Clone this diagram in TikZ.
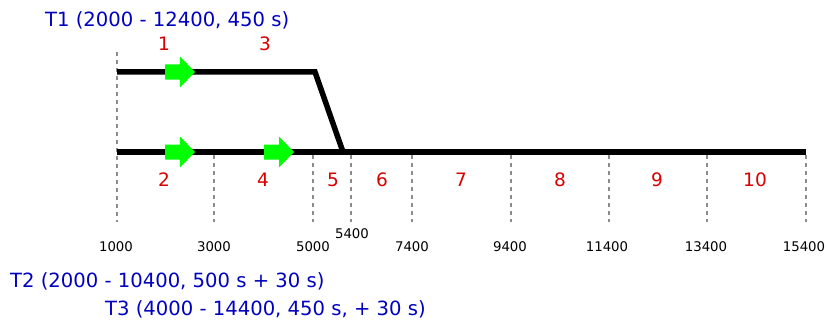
\documentclass[tikz,border=0pt]{standalone}
\usepackage{fontspec}
\setmainfont{DejaVu Sans}
\begin{document}
\begin{tikzpicture}[x=1pt,y=-1pt,
  track/.style={line width=5.5pt,line cap=butt,line join=miter},
  grid/.style={draw=gray!90,line width=1.4pt,dash pattern=on 4pt off 4pt},
  garrow/.style={fill=green,draw=none},
  title/.style={text=blue!75!black,font=\fontsize{19.6}{21}\selectfont,inner sep=0pt,anchor=base west},
  seg/.style={text=red!85!black,font=\fontsize{18.5}{20}\selectfont,inner sep=0pt,anchor=base},
  tick/.style={text=black,font=\fontsize{13.3}{15}\selectfont,inner sep=0pt,anchor=base}]
\useasboundingbox (0,0) rectangle (827,321);
% grid lines
\coordinate (g1t) at (117,52);   \coordinate (g1b) at (117,222);
\coordinate (g2t) at (214,155);  \coordinate (g2b) at (214,222);
\coordinate (g3t) at (313,155);  \coordinate (g3b) at (313,222);
\coordinate (g4t) at (351,155);  \coordinate (g4b) at (351,222);
\coordinate (g5t) at (412,155);  \coordinate (g5b) at (412,222);
\coordinate (g6t) at (511,155);  \coordinate (g6b) at (511,222);
\coordinate (g7t) at (609,155);  \coordinate (g7b) at (609,222);
\coordinate (g8t) at (707,155);  \coordinate (g8b) at (707,222);
\coordinate (g9t) at (806,155);  \coordinate (g9b) at (806,222);
\foreach \i in {1,...,9} \draw[grid] (g\i t) -- (g\i b);
% tracks
\coordinate (a0) at (117,72);
\coordinate (a1) at (315,72);
\coordinate (a2) at (343,152);
\coordinate (b0) at (117,152);
\coordinate (b1) at (806,152);
\draw[track] (a0) -- (a1) -- (a2);
\draw[track] (b0) -- (b1);
% green arrows
\foreach \x/\y in {165/72,165/152,264/152}
  \fill[garrow] (\x,\y-7.5) -- (\x+15,\y-7.5) -- (\x+15,\y-15.5) -- (\x+30,\y) -- (\x+15,\y+15.5) -- (\x+15,\y+7.5) -- (\x,\y+7.5) -- cycle;
% titles
\node[title] (t1) at (45,27) {T1 (2000 - 12400, 450 s)};
\node[title] (t2) at (10,287) {T2 (2000 - 10400, 500 s + 30 s)};
\node[title] (t3) at (105,315) {T3 (4000 - 14400, 450 s, + 30 s)};
% segment labels
\node[seg] (s1) at (164,51) {1};
\node[seg] (s3) at (265,51) {3};
\node[seg] (s2) at (164,186) {2};
\node[seg] (s4) at (263,186) {4};
\node[seg] (s5) at (333,186) {5};
\node[seg] (s6) at (382,186) {6};
\node[seg] (s7) at (461,186) {7};
\node[seg] (s8) at (560,186) {8};
\node[seg] (s9) at (657,186) {9};
\node[seg] (s10) at (755,186) {10};
% axis values
\node[tick] (v1) at (116,251) {1000};
\node[tick] (v2) at (214,251) {3000};
\node[tick] (v3) at (313,251) {5000};
\node[tick] (v4) at (352,238) {5400};
\node[tick] (v5) at (412,251) {7400};
\node[tick] (v6) at (510,251) {9400};
\node[tick] (v7) at (607,251) {11400};
\node[tick] (v8) at (706,251) {13400};
\node[tick] (v9) at (804,251) {15400};
\end{tikzpicture}
\end{document}
